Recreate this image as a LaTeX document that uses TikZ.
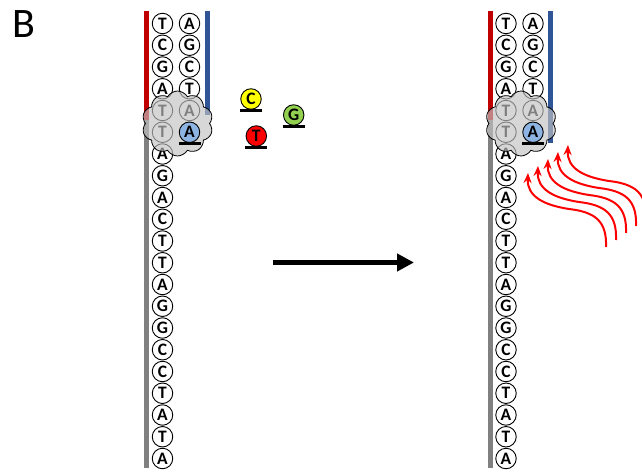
\documentclass[tikz,border=0pt]{standalone}
\usepackage{fontspec}
\setmainfont{Carlito}
\usetikzlibrary{shapes.symbols,arrows.meta}

\definecolor{strandred}{HTML}{C00000}
\definecolor{strandblue}{HTML}{2F5597}
\definecolor{strandgray}{HTML}{808080}
\definecolor{ntyellow}{HTML}{FFFF00}
\definecolor{ntgreen}{HTML}{92D050}
\definecolor{ntred}{HTML}{FF0000}
\definecolor{ntblue}{HTML}{8EB4E3}

\tikzset{
  base/.style={circle, draw=black, line width=0.9pt, fill=white,
    minimum size=20.5pt, inner sep=0pt,
    font=\fontsize{17.5}{17.5}\selectfont\bfseries},
  strand/.style={line width=5pt},
  seat/.style={line width=3.5pt, draw=black},
  enzyme/.style={cloud, cloud puffs=10, cloud puff arc=120, aspect=1.1,
    draw=black, line width=0.8pt, fill=black!24, fill opacity=0.66,
    minimum width=71pt, minimum height=65pt, inner sep=0pt},
  wave/.style={draw=ntred, line width=2pt, -{Stealth[length=10pt,width=8pt]}},
  bigarrow/.style={line width=5pt, -{Triangle[length=17pt,width=17pt]}},
}

% one replication fork: template strand, partial new strand, polymerase
% #1 = name prefix, #2 = horizontal offset, #3 = lower end of the blue strand
\newcommand\drawfork[3]{%
  \begin{scope}[shift={(#2,0)}]
    \coordinate (#1-rt) at (146.5,11.5);
    \coordinate (#1-rm) at (146.5,120);
    \coordinate (#1-gb) at (146.5,468);
    \coordinate (#1-bt) at (207,11.5);
    \coordinate (#1-bb) at (207,#3);
    \draw[strand, strandred] (#1-rt) -- (#1-rm);
    \draw[strand, strandgray] (#1-rm) -- (#1-gb);
    \draw[strand, strandblue] (#1-bt) -- (#1-bb);
    \foreach \b [count=\i from 0] in {T,C,G,A,T,T,A,G,A,C,T,T,A,G,G,C,C,T,A,T,A}
      \node[base] (#1-l\i) at (162.5,23.5+21.75*\i) {\b};
    \foreach \b [count=\i from 0] in {A,G,C,T,A}
      \node[base] (#1-r\i) at (189.5,23.5+21.75*\i) {\b};
    \node[enzyme] (#1-pol) at (177.5,123.5) {};
    \node[base, fill=ntblue] (#1-new) at (189.5,23.5+21.75*5) {A};
    \draw[seat] ([xshift=-11pt,yshift=-0.5pt]#1-new.south) -- ([xshift=11pt,yshift=-0.5pt]#1-new.south);
  \end{scope}%
}

\begin{document}
\begin{tikzpicture}[x=1pt, y=-1pt]
  \useasboundingbox (0,0) rectangle (642,473);
  \clip (0,0) rectangle (642,473);

  \node[font=\fontsize{42}{42}\selectfont, inner sep=0pt] (label) at (23.5,24.5) {B};

  % left fork with free nucleotides
  \drawfork{L}{0}{115}

  \node[base, fill=ntyellow] (fC) at (251,99) {C};
  \node[base, fill=ntgreen] (fG) at (293.7,115) {G};
  \node[base, fill=ntred] (fT) at (256.3,136) {T};
  \foreach \n in {fC,fG,fT}
    \draw[seat] ([xshift=-11pt,yshift=-0.75pt]\n.south) -- ([xshift=11pt,yshift=-0.75pt]\n.south);

  % transition arrow
  \coordinate (arrS) at (272.7,262.5);
  \coordinate (arrE) at (414,262.5);
  \draw[bigarrow] (arrS) -- (arrE);

  % right fork
  \drawfork{R}{343.5}{143}

  % incoming radiation
  \foreach \k in {0,...,4} {
    \begin{scope}[shift={(10*\k,-7*\k)}]
      \coordinate (w\k-s) at (606,247);
      \coordinate (w\k-m) at (569,209);
      \coordinate (w\k-e) at (528,173);
      \draw[wave] (w\k-s) .. controls (607,221) and (595,212) .. (w\k-m)
                  .. controls (543,205) and (527,196) .. (w\k-e);
    \end{scope}
  }
\end{tikzpicture}
\end{document}
